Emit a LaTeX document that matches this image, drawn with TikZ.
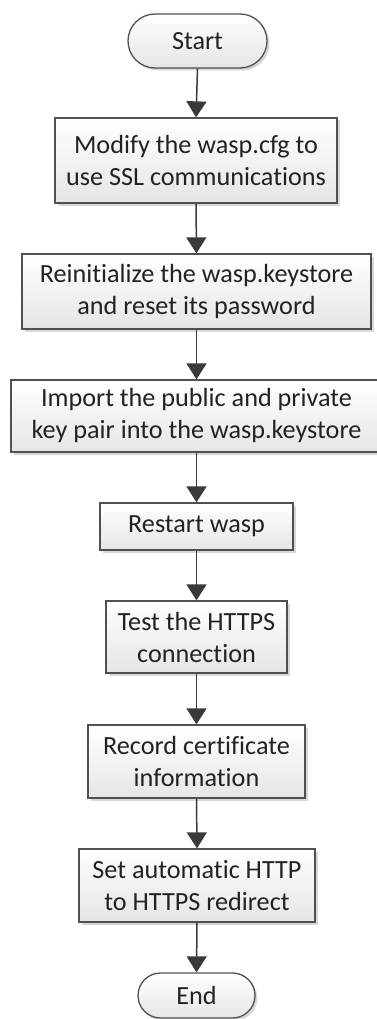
\documentclass[tikz,border=0pt]{standalone}
\usepackage{fontspec}
\setmainfont[Ligatures=NoCommon]{Carlito}
\usetikzlibrary{arrows.meta,shadows,shapes.misc}
\definecolor{edge}{HTML}{505050}
\definecolor{arr}{HTML}{3A3A3A}
\definecolor{txt}{HTML}{222222}
\tikzset{
  base/.style={draw=edge, line width=1.3pt, top color=white, bottom color=black!10,
    drop shadow={shadow xshift=2.5pt, shadow yshift=-2.5pt, fill=black!35, opacity=0.45},
    inner sep=0pt, align=center, text=txt, font=\fontsize{26.2}{32}\selectfont},
  stepbox/.style={base, rectangle},
  term/.style={base, rounded rectangle},
  flow/.style={draw=arr, line width=1.5pt, -{Triangle[width=20pt,length=16pt]}}
}
\begin{document}
\begin{tikzpicture}[x=1pt,y=-1pt]
\useasboundingbox (0,0) rectangle (377,1019);
\clip (0,0) rectangle (377,1019);
\node[term, minimum width=139pt, minimum height=54pt] (start) at (197.5,41) {Start};
\node[stepbox, minimum width=282pt, minimum height=85pt] (b1) at (196,160.5) {Modify the wasp.cfg to\\use SSL communications};
\node[stepbox, minimum width=349pt, minimum height=75pt] (b2) at (196.5,291.5) {Reinitialize the wasp.keystore\\and reset its password};
\node[stepbox, minimum width=371pt, minimum height=72pt] (b3) at (196.5,416) {Import the public and private\\key pair into the wasp.keystore};
\node[stepbox, minimum width=193pt, minimum height=47pt] (b4) at (196.5,526.5) {Restart wasp};
\node[stepbox, minimum width=181pt, minimum height=72pt] (b5) at (196.5,637) {Test the HTTPS\\connection};
\node[stepbox, minimum width=217pt, minimum height=73pt] (b6) at (196.5,761.5) {Record certificate\\information};
\node[stepbox, minimum width=236pt, minimum height=73pt] (b7) at (197,885.5) {Set automatic HTTP\\to HTTPS redirect};
\node[term, minimum width=117pt, minimum height=45pt] (end) at (196.5,995.5) {End};
\draw[flow] (start.south) -- (b1.north);
\draw[flow] (b1.south) -- (b2.north);
\draw[flow] (b2.south) -- (b3.north);
\draw[flow] (b3.south) -- (b4.north);
\draw[flow] (b4.south) -- (b5.north);
\draw[flow] (b5.south) -- (b6.north);
\draw[flow] (b6.south) -- (b7.north);
\draw[flow] (b7.south) -- (end.north);
\end{tikzpicture}
\end{document}
